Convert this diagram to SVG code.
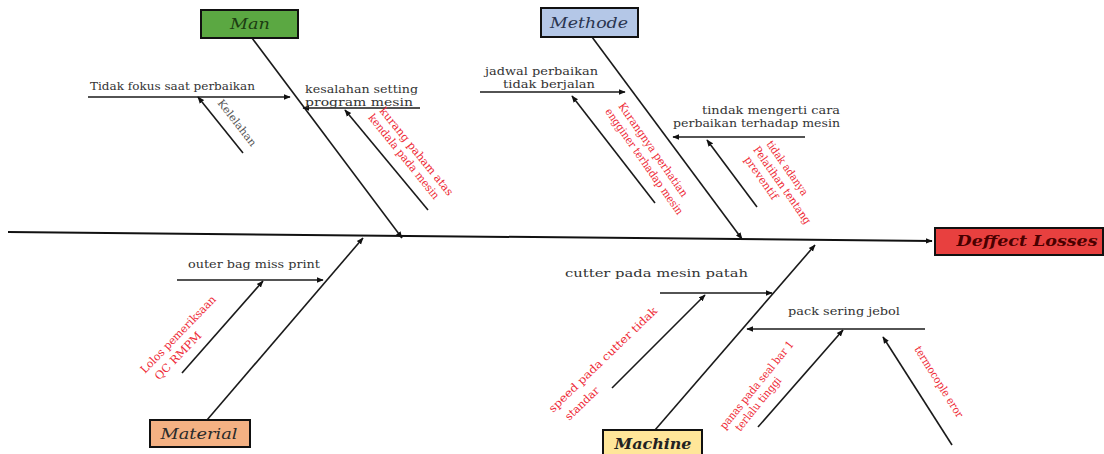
<svg xmlns="http://www.w3.org/2000/svg" width="1104" height="454" viewBox="0 0 1104 454">
<defs>
<marker id="ah" viewBox="0 0 10 10" refX="9" refY="5" markerWidth="7" markerHeight="7" orient="auto" markerUnits="userSpaceOnUse">
<path d="M0,1 L10,5 L0,9 z" fill="#111"/>
</marker>
<style>
.ln{stroke:#1a1a1a;stroke-width:1.6;fill:none;marker-end:url(#ah)}
.sp{stroke:#111;stroke-width:2;fill:none;marker-end:url(#ah)}
.box{stroke:#111;stroke-width:2}
.blk{font-family:"DejaVu Serif","Liberation Serif",serif;font-size:11.5px;fill:#333}
.red{font-family:"DejaVu Serif","Liberation Serif",serif;font-size:11px;fill:#ee2a36}
.gry{font-family:"DejaVu Serif","Liberation Serif",serif;font-size:10.5px;fill:#555}
.hd{font-family:"DejaVu Serif","Liberation Serif",serif;font-size:14.5px;font-style:italic;text-anchor:middle}
</style>
</defs>
<rect width="1104" height="454" fill="#ffffff"/>

<g id="connectors">
<path class="sp" d="M8,232 L932,241"/>
<path class="ln" d="M252,38 L402,238"/>
<path class="ln" d="M88,97 L290,97"/>
<path class="ln" d="M243,153 L198,97"/>
<path class="ln" d="M420,108 L303,108"/>
<path class="ln" d="M428,210 L345,110"/>
<path class="ln" d="M592,37 L742,239"/>
<path class="ln" d="M480,92 L625,92"/>
<path class="ln" d="M655,203 L572,96"/>
<path class="ln" d="M805,137 L673,137"/>
<path class="ln" d="M757,207 L707,140"/>
<path class="ln" d="M207,420 L363,238"/>
<path class="ln" d="M177,280 L323,280"/>
<path class="ln" d="M182,373 L263,281"/>
<path class="ln" d="M655,430 L815,245"/>
<path class="ln" d="M660,293 L772,293"/>
<path class="ln" d="M612,388 L705,295"/>
<path class="ln" d="M925,329 L747,329"/>
<path class="ln" d="M758,427 L843,330"/>
<path class="ln" d="M952,445 L883,337"/>
</g>

<g id="man">
<rect class="box" x="201" y="10" width="97" height="28" fill="#5ba842"/>
<text class="hd" x="250" y="29" fill="#1d3d12" textLength="40" lengthAdjust="spacingAndGlyphs">Man</text>
</g>
<g id="methode">
<rect class="box" x="541" y="8" width="97" height="29" fill="#b4c7e7"/>
<text class="hd" x="589" y="28" fill="#2a3550" textLength="78" lengthAdjust="spacingAndGlyphs">Methode</text>
</g>
<g id="material">
<rect class="box" x="150" y="420" width="100" height="27" fill="#f4b183"/>
<text class="hd" x="199" y="439" fill="#2a2a2a" textLength="77" lengthAdjust="spacingAndGlyphs">Material</text>
</g>
<g id="machine">
<rect class="box" x="603" y="430" width="99" height="27" fill="#ffe699"/>
<text class="hd" x="653" y="449" fill="#222" font-weight="bold" textLength="77" lengthAdjust="spacingAndGlyphs">Machine</text>
</g>
<g id="defect">
<rect class="box" x="935" y="228" width="168" height="27" fill="#e8403f"/>
<text class="hd" x="1027" y="246" fill="#4a0000" font-weight="bold" textLength="141" lengthAdjust="spacingAndGlyphs">Deffect Losses</text>
</g>

<g id="man-causes">
<text class="blk" x="90" y="90" textLength="165" lengthAdjust="spacingAndGlyphs">Tidak fokus saat perbaikan</text>
<g transform="translate(217,103) rotate(52)"><text class="gry" x="0" y="0" textLength="56" lengthAdjust="spacingAndGlyphs">Kelelahan</text></g>
<text class="blk" x="305" y="93" textLength="113" lengthAdjust="spacingAndGlyphs">kesalahan setting</text>
<text class="blk" x="305" y="106" textLength="108" lengthAdjust="spacingAndGlyphs">program mesin</text>
<g transform="translate(379,111) rotate(51)">
<text class="red" x="0" y="0" textLength="110" lengthAdjust="spacingAndGlyphs">kurang paham atas</text>
<text class="red" x="-2" y="13" textLength="106" lengthAdjust="spacingAndGlyphs">kendala pada mesin</text>
</g>
</g>

<g id="methode-causes">
<text class="blk" x="485" y="75" textLength="113" lengthAdjust="spacingAndGlyphs">jadwal perbaikan</text>
<text class="blk" x="503" y="88" textLength="92" lengthAdjust="spacingAndGlyphs">tidak berjalan</text>
<g transform="translate(618,106) rotate(55)">
<text class="red" x="0" y="0" textLength="112" lengthAdjust="spacingAndGlyphs">Kurangnya perhatian</text>
<text class="red" x="-3" y="14" textLength="127" lengthAdjust="spacingAndGlyphs">engginer terhadap mesin</text>
</g>
<text class="blk" x="702" y="114" textLength="138" lengthAdjust="spacingAndGlyphs">tindak mengerti cara</text>
<text class="blk" x="673" y="127" textLength="167" lengthAdjust="spacingAndGlyphs">perbaikan terhadap mesin</text>
<g transform="translate(766,144) rotate(55)">
<text class="red" x="0" y="0" textLength="64" lengthAdjust="spacingAndGlyphs">tidak adanya</text>
<text class="red" x="-3" y="14" textLength="92" lengthAdjust="spacingAndGlyphs">Pelatihan tentang</text>
<text class="red" x="0" y="27" textLength="50" lengthAdjust="spacingAndGlyphs">preventif</text>
</g>
</g>

<g id="material-causes">
<text class="blk" x="188" y="268" textLength="132" lengthAdjust="spacingAndGlyphs">outer bag miss print</text>
<g transform="translate(145,374) rotate(-46)">
<text class="red" x="0" y="0" textLength="103" lengthAdjust="spacingAndGlyphs">Lolos pemeriksaan</text>
<text class="red" x="5" y="15" textLength="62" lengthAdjust="spacingAndGlyphs">QC RMPM</text>
</g>
</g>

<g id="machine-causes">
<text class="blk" x="565" y="277" textLength="183" lengthAdjust="spacingAndGlyphs">cutter pada mesin patah</text>
<g transform="translate(553,413) rotate(-44)">
<text class="red" x="0" y="0" textLength="146" lengthAdjust="spacingAndGlyphs">speed pada cutter tidak</text>
<text class="red" x="6" y="17" textLength="43" lengthAdjust="spacingAndGlyphs">standar</text>
</g>
<text class="blk" x="788" y="315" textLength="112" lengthAdjust="spacingAndGlyphs">pack sering jebol</text>
<g transform="translate(725,430) rotate(-51)">
<text class="red" x="0" y="0" textLength="110" lengthAdjust="spacingAndGlyphs">panas pada seal bar 1</text>
<text class="red" x="8" y="13" textLength="66" lengthAdjust="spacingAndGlyphs">terlalu tinggi</text>
</g>
<g transform="translate(914,349) rotate(58)">
<text class="red" x="0" y="0" textLength="82" lengthAdjust="spacingAndGlyphs">termocople eror</text>
</g>
</g>
</svg>
